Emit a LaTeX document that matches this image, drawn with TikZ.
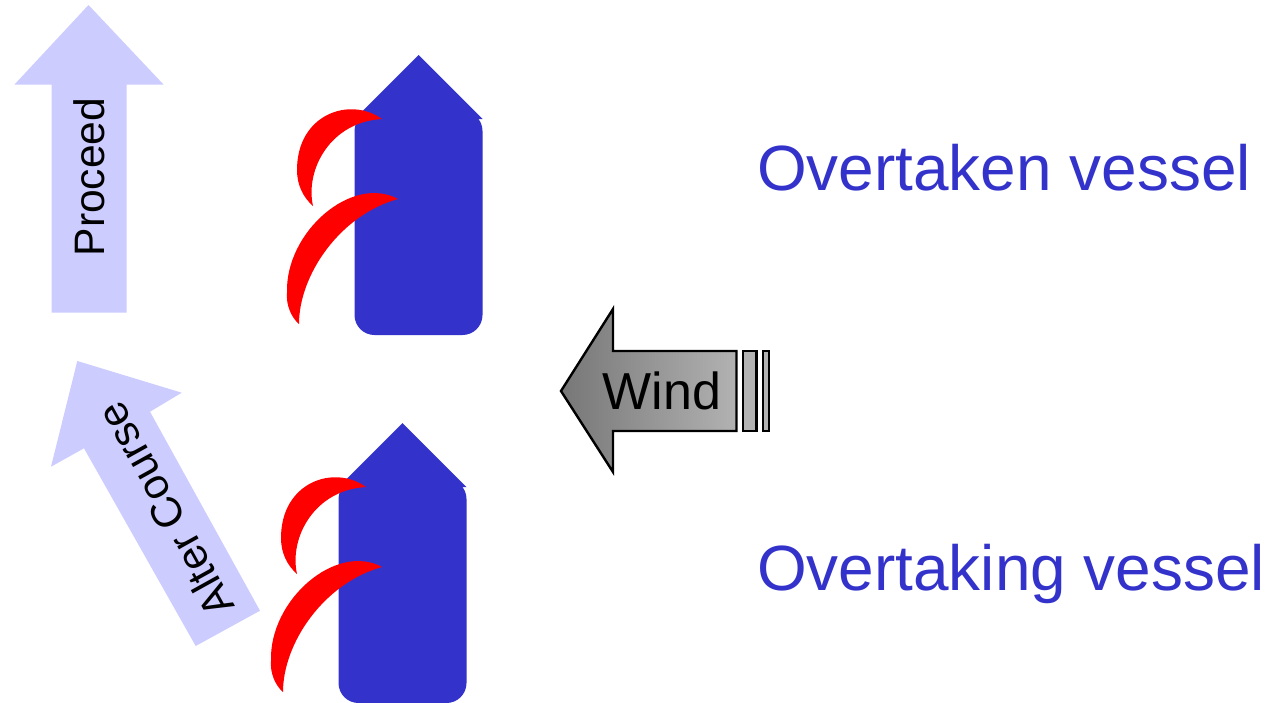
\documentclass[tikz,border=0pt]{standalone}
\usepackage{fontspec}
\setmainfont{Liberation Sans}
\definecolor{hullblue}{HTML}{3333CC}
\definecolor{lilac}{HTML}{CCCCFF}
\definecolor{windl}{HTML}{777777}
\definecolor{windr}{HTML}{B2B2B2}
\tikzset{
  hull/.style={fill=hullblue,draw=none},
  sail/.style={fill=red,draw=none},
  course/.style={fill=lilac,draw=none},
  windshape/.style={draw=black,line width=2.4pt,line join=miter},
  windbar/.style={windshape,fill=windr},
  vessellabel/.style={anchor=base west,text=hullblue,font=\fontsize{63.9}{70}\selectfont,inner sep=0pt},
  coursetext/.style={font=\fontsize{42.6}{46}\selectfont,inner sep=0pt,text=black},
  ship/.pic={
    \fill[hull] (418.5,55) -- (482.5,119) -- (354.5,119) -- cycle;
    \fill[hull,rounded corners=20pt] (354.5,111) rectangle (482.5,335);
    \fill[sail] (382,119) .. controls (350,96) and (297,114) .. (297,170)
      .. controls (297,185) and (303,197) .. (313,206)
      .. controls (305,170) and (330,122) .. (382,119) -- cycle;
    \fill[sail] (398,199) .. controls (352,174) and (285,232) .. (287,293)
      .. controls (286,305) and (291,317) .. (299,324)
      .. controls (299,275) and (340,215) .. (398,199) -- cycle;
  }
}
\begin{document}
\begin{tikzpicture}[x=1pt,y=-1pt]
\useasboundingbox (0,0) rectangle (1269,702);
\fill[white] (0,0) rectangle (1269,702);
\fill[course] (88.5,5) -- (163.5,84.5) -- (126.5,84.5) -- (126.5,312.5) -- (51.5,312.5) -- (51.5,84.5) -- (14.5,84.5) -- cycle;
\node[coursetext,rotate=90] (proceed) at (89,177) {Proceed};
\fill[course] (77.3,361) -- (181.7,392.7) -- (150,411.7) -- (260,610.7) -- (195.7,646) -- (84,448.3) -- (51,466.7) -- cycle;
\node[coursetext,rotate=119] (alter) at (165,510) {Alter Course};
\pic at (0,0) {ship};
\pic at (-16,368) {ship};
\draw[windshape,left color=windl,right color=windr] (561,391) -- (613,309) -- (613,351) -- (736.5,351) -- (736.5,431) -- (613,431) -- (613,472) -- cycle;
\draw[windbar] (743,351) rectangle (756.5,431);
\draw[windbar] (763,351) rectangle (769,431);
\node[font=\fontsize{52}{56}\selectfont,inner sep=0pt,text=black] (wind) at (662,391) {Wind};
\node[vessellabel] (overtaken) at (757,190) {Overtaken vessel};
\node[vessellabel] (overtaking) at (757,590) {Overtaking vessel};
\end{tikzpicture}
\end{document}
